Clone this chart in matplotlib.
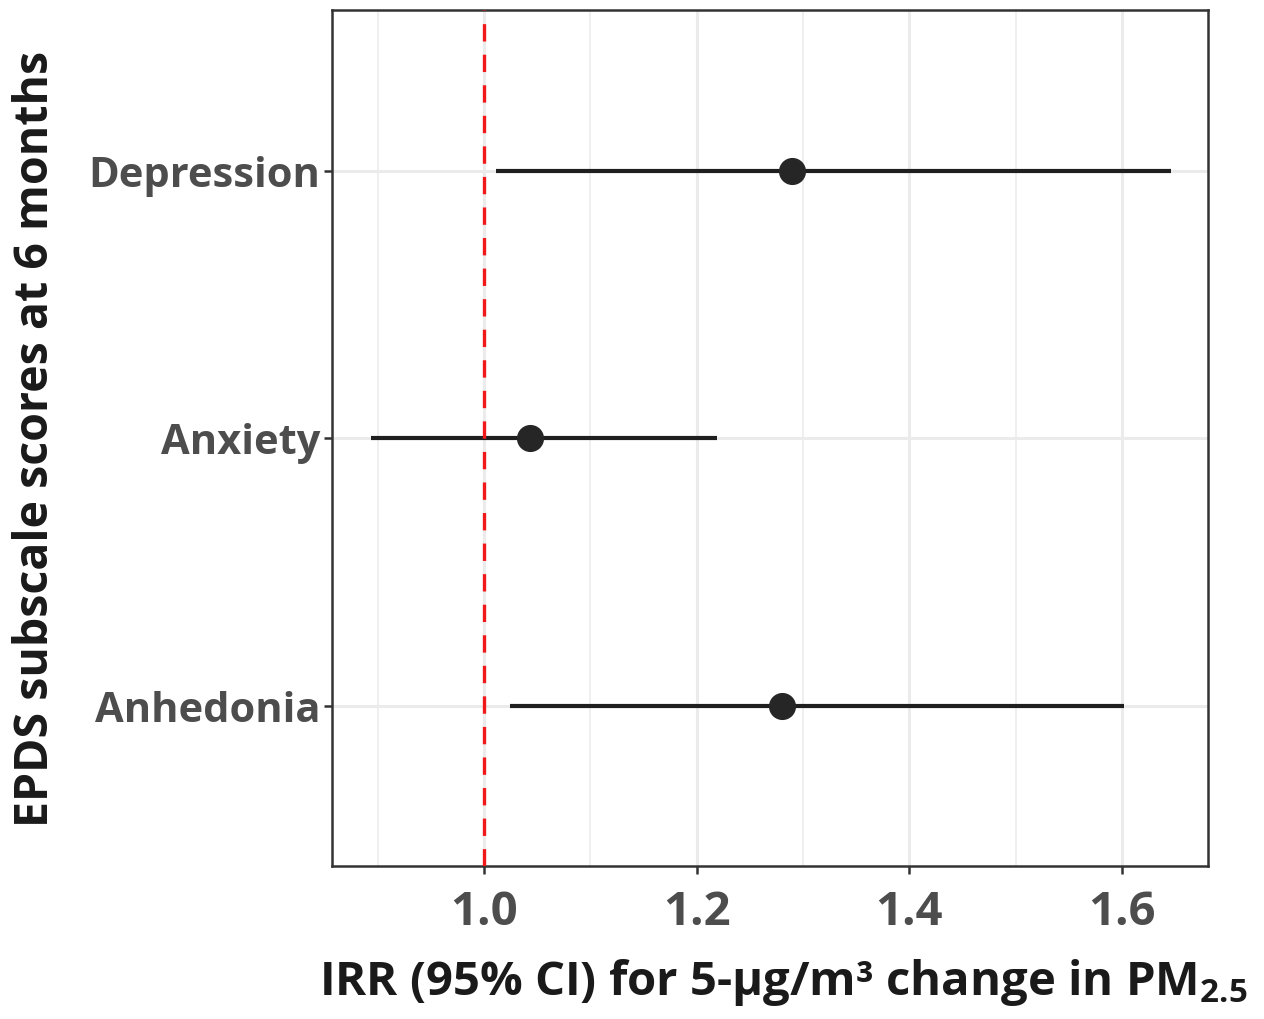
import matplotlib
matplotlib.use("Agg")
import matplotlib.pyplot as plt

# ---- data ----
categories = ["Anhedonia", "Anxiety", "Depression"]
irr = [1.280, 1.043, 1.290]
ci_low = [1.024, 0.894, 1.011]
ci_high = [1.602, 1.219, 1.646]
x_ticks = [1.0, 1.2, 1.4, 1.6]
x_tick_labels = ["1.0", "1.2", "1.4", "1.6"]
x_minor = [0.9, 1.1, 1.3, 1.5]
ref_value = 1.0

FONT = "Open Sans"
plt.rcParams['font.family'] = [FONT, 'DejaVu Sans']
plt.rcParams['mathtext.fontset'] = 'custom'
plt.rcParams['mathtext.rm'] = FONT + ':bold'
plt.rcParams['mathtext.it'] = FONT + ':bold'
plt.rcParams['mathtext.bf'] = FONT + ':bold'
plt.rcParams['lines.scale_dashes'] = False

fig = plt.figure(figsize=(12.64, 10.2), dpi=100)
ax = fig.add_axes([332/1264, 1 - 867/1020, (1208-332)/1264, (867-11)/1020])

ypos = list(range(1, len(categories) + 1))

# grid
for v in x_ticks:
    ax.axvline(v, color="#EBEBEB", lw=2.2, zorder=0)
for v in x_minor:
    ax.axvline(v, color="#EBEBEB", lw=1.1, zorder=0)
for y in ypos:
    ax.axhline(y, color="#EBEBEB", lw=2.2, zorder=0)

# CIs and points
ax.hlines(ypos, ci_low, ci_high, color="#1f1f1f", lw=3.0, zorder=2)
ax.plot(irr, ypos, 'o', color="#262626", markersize=18.5, zorder=3)

# reference line
ax.axvline(ref_value, color="#F01818", lw=2.4, dashes=(12.5, 9.5), zorder=4)

ax.set_xlim(0.857, 1.681)
ax.set_ylim(0.4, 3.6)

ax.set_xticks(x_ticks)
ax.set_xticklabels(x_tick_labels)
ax.set_yticks(ypos)
ax.set_yticklabels(categories)
ax.tick_params(axis='both', which='major', length=5.5, width=1.8, color="#333333",
               labelcolor="#4D4D4D")
ax.tick_params(axis='x', pad=10, labelsize=34)
ax.tick_params(axis='y', pad=3, labelsize=30)
for lab in ax.get_xticklabels() + ax.get_yticklabels():
    lab.set_fontweight('bold')

for s in ax.spines.values():
    s.set_color("#333333")
    s.set_linewidth(1.8)

ax.set_xlabel("IRR (95% CI) for 5-µg/m³ change in PM$_{2.5}$", fontsize=34,
              fontweight='bold', color="#1a1a1a")
ax.xaxis.set_label_coords(0.515, -0.105)
ax.xaxis.label.set_va('top')
ax.set_ylabel("EPDS subscale scores at 6 months", fontsize=33.5,
              fontweight='bold', color="#1a1a1a")
ax.yaxis.set_label_coords(-0.339, 0.5)
ax.yaxis.label.set_va('center')

fig.savefig("out.png", dpi=100, facecolor="white")
